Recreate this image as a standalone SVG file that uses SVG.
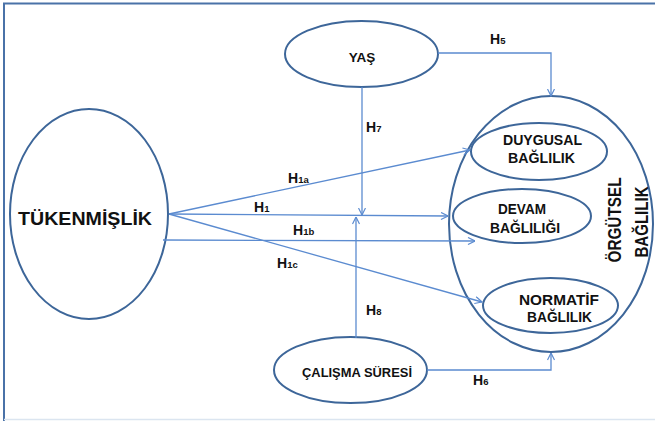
<svg xmlns="http://www.w3.org/2000/svg" width="655" height="421" viewBox="0 0 655 421">
<defs>
<style>
.node{fill:#fff;stroke:#3d6699;stroke-width:2}
.c{fill:none;stroke:#5b8bd0;stroke-width:1.3}
.t{font-family:"Liberation Sans",Arial,sans-serif;font-weight:bold;fill:#111;text-anchor:middle}
.h{font-family:"Liberation Sans",Arial,sans-serif;font-weight:bold;fill:#111;font-size:14px}
.s{font-size:9.5px}
</style>
<marker id="ar" viewBox="0 0 8 8" refX="7.5" refY="4" markerWidth="8" markerHeight="8" markerUnits="userSpaceOnUse" orient="auto">
<path d="M0.5,0.5 L7.5,4 L0.5,7.5" fill="none" stroke="#5b8bd0" stroke-width="1.2"/>
</marker>
</defs>
<rect width="655" height="421" fill="#fff"/>
<path d="M4,421 V3.5 H655" fill="none" stroke="#4a72a8" stroke-width="2"/>
<line x1="4" y1="419.5" x2="655" y2="419.5" stroke="#dbe5f0" stroke-width="1.5"/>

<g id="orgutsel">
<ellipse class="node" cx="551" cy="224" rx="102" ry="128"/>
<text class="t" font-size="17.5" textLength="85" lengthAdjust="spacingAndGlyphs" transform="translate(621,220) rotate(-90)">ÖRGÜTSEL</text>
<text class="t" font-size="17.5" textLength="71" lengthAdjust="spacingAndGlyphs" transform="translate(648,222) rotate(-90)">BAĞLILIK</text>
</g>
<g id="duygusal">
<ellipse class="node" cx="539" cy="151.5" rx="68" ry="28.5"/>
<text class="t" font-size="14" x="542.5" y="145" textLength="79" lengthAdjust="spacingAndGlyphs">DUYGUSAL</text>
<text class="t" font-size="14" x="541.5" y="162.5" textLength="67" lengthAdjust="spacingAndGlyphs">BAĞLILIK</text>
</g>
<g id="devam">
<ellipse class="node" cx="522" cy="216" rx="69" ry="27"/>
<text class="t" font-size="14" x="522" y="214" textLength="48" lengthAdjust="spacingAndGlyphs">DEVAM</text>
<text class="t" font-size="14" x="525" y="233" textLength="70" lengthAdjust="spacingAndGlyphs">BAĞLILIĞI</text>
</g>
<g id="normatif">
<ellipse class="node" cx="550.5" cy="305.5" rx="67.5" ry="27.5"/>
<text class="t" font-size="14" x="559" y="305" textLength="80" lengthAdjust="spacingAndGlyphs">NORMATİF</text>
<text class="t" font-size="14" x="559.5" y="321.5" textLength="65" lengthAdjust="spacingAndGlyphs">BAĞLILIK</text>
</g>
<g id="tukenmislik">
<ellipse class="node" cx="89" cy="214" rx="79" ry="105"/>
<text class="t" font-size="19" x="85" y="225" textLength="134" lengthAdjust="spacingAndGlyphs">TÜKENMİŞLİK</text>
</g>
<g id="yas">
<ellipse class="node" cx="361.5" cy="54" rx="76.5" ry="33"/>
<text class="t" font-size="13.5" x="362" y="62">YAŞ</text>
</g>
<g id="calisma">
<ellipse class="node" cx="350.5" cy="370" rx="76.5" ry="33"/>
<text class="t" font-size="13.5" x="357" y="377" textLength="110" lengthAdjust="spacingAndGlyphs">ÇALIŞMA SÜRESİ</text>
</g>

<g id="connectors">
<path class="c" d="M438,53 H551 V96" marker-end="url(#ar)"/>
<path class="c" d="M362,87 V215" marker-end="url(#ar)"/>
<path class="c" d="M356,338 V217" marker-end="url(#ar)"/>
<path class="c" d="M427,370 H551 V353" marker-end="url(#ar)"/>
<path class="c" d="M169,214 L470,150" marker-end="url(#ar)"/>
<path class="c" d="M169,214 L448,216" marker-end="url(#ar)"/>
<path class="c" d="M163,240 L475,241" marker-end="url(#ar)"/>
<path class="c" d="M169,214 L482,302" marker-end="url(#ar)"/>
</g>
<g id="labels">
<text class="h" x="490" y="44">H<tspan class="s">5</tspan></text>
<text class="h" x="366" y="132">H<tspan class="s">7</tspan></text>
<text class="h" x="288" y="183">H<tspan class="s">1a</tspan></text>
<text class="h" x="254" y="212">H<tspan class="s">1</tspan></text>
<text class="h" x="293" y="235">H<tspan class="s">1b</tspan></text>
<text class="h" x="277" y="268">H<tspan class="s">1c</tspan></text>
<text class="h" x="366" y="315">H<tspan class="s">8</tspan></text>
<text class="h" x="473" y="385">H<tspan class="s">6</tspan></text>
</g>
</svg>
